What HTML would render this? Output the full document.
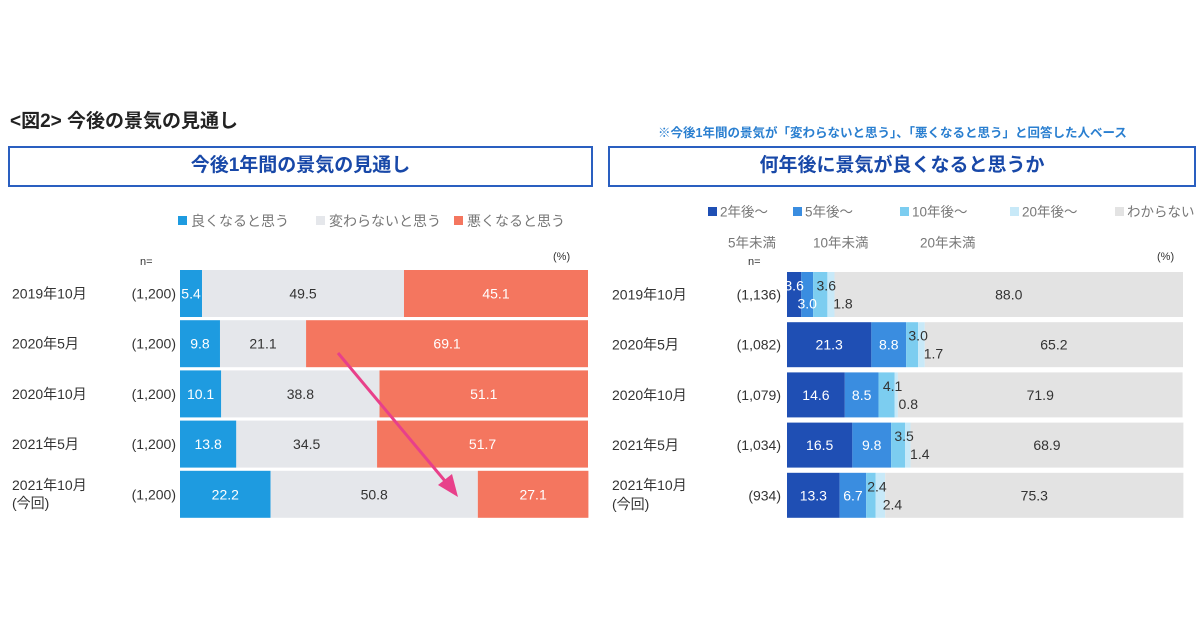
<!DOCTYPE html>
<html><head><meta charset="utf-8"><style>
body{margin:0;background:#fff;font-family:"Liberation Sans","Noto Sans CJK JP",sans-serif;}
#root{position:relative;width:1200px;height:630px;overflow:hidden;background:#fff}
.t{position:absolute;white-space:nowrap;color:#333}
.box{position:absolute;border:2px solid #2a5fc0;box-sizing:border-box;color:#1848a8;font-weight:bold;font-size:19px;text-align:center;line-height:36px}
</style></head><body>
<div id="root">
<div class="t" style="left:10px;top:106px;font-size:19px;font-weight:bold;color:#222">&lt;図2&gt;&nbsp;今後の景気の見通し</div>
<div class="t" style="left:658px;top:122px;font-size:12.5px;font-weight:bold;color:#2a7fd0">※今後1年間の景気が「変わらないと思う」、「悪くなると思う」と回答した人ベース</div>
<div class="box" style="left:8px;top:146px;width:585px;height:41px">今後1年間の景気の見通し</div>
<div class="box" style="left:608px;top:146px;width:588px;height:41px">何年後に景気が良くなると思うか</div>
<svg id="chart" width="1200" height="630" style="position:absolute;left:0;top:0"></svg>
</div>
<script>
const rowsL = ["2019年10月","2020年5月","2020年10月","2021年5月","2021年10月"];
const nL = ["(1,200)","(1,200)","(1,200)","(1,200)","(1,200)"];
const good = [5.4,9.8,10.1,13.8,22.2];
const same = [49.5,21.1,38.8,34.5,50.8];
const bad = [45.1,69.1,51.1,51.7,27.1];
const seriesLNames = ["良くなると思う","変わらないと思う","悪くなると思う"];
const rowsR = ["2019年10月","2020年5月","2020年10月","2021年5月","2021年10月"];
const nR = ["(1,136)","(1,082)","(1,079)","(1,034)","(934)"];
const y2 = [3.6,21.3,14.6,16.5,13.3];
const y5 = [3.0,8.8,8.5,9.8,6.7];
const y10 = [3.6,3.0,4.1,3.5,2.4];
const y20 = [1.8,1.7,0.8,1.4,2.4];
const unk = [88.0,65.2,71.9,68.9,75.3];
const seriesRNames = ["2年後～","5年後～","10年後～","20年後～","わからない"];
const seriesRSub = ["5年未満","10年未満","20年未満"];

const svg=document.getElementById('chart');
const NS='http://www.w3.org/2000/svg';
function mk(tag,attrs,name){const e=document.createElementNS(NS,tag);for(const k in attrs)e.setAttribute(k,attrs[k]);


svg.appendChild(e);return e;}
function txt(x,y,s,name,o){const e=mk('text',Object.assign({x:x,y:y,'font-size':14,fill:'#333','dominant-baseline':'central','font-family':'"Liberation Sans","Noto Sans CJK JP",sans-serif'},o||{}),name);e.textContent=s;return e;}
const rowY=i=>270+i*50.2, barH=47;
// left
const lx0=180,lw=408; const xL=v=>lx0+v/100*lw;
const colL=['#1e9be0','#e5e7eb','#f4765f'];
const dataL=[good,same,bad];
[[178,'#1e9be0'],[316,'#e5e7eb'],[454,'#f4765f']].forEach((p,k)=>{
 mk('rect',{x:p[0],y:216,width:9,height:9,fill:p[1]},'legend-swatch-'+k);
 txt(p[0]+13,221,seriesLNames[k],'legend-label-'+k,{fill:'#777'});
});
txt(140,262,'n=','n-label',{'font-size':11});
txt(553,257,'(%)','percent-label',{'font-size':11});
rowsL.forEach((r,i)=>{
 const y=rowY(i); let c=0;
 if(i===4){txt(12,y+14,r,'row-label-left',{});txt(12,y+32,'(今回)','row-sub-left',{});}
 else txt(12,y+barH/2,r,'row-label-left');
 txt(176,y+barH/2,nL[i],'row-n-left',{'text-anchor':'end'});
 dataL.forEach((s,k)=>{
  const v=s[i];
  mk('rect',{x:xL(c),y:y,width:xL(c+v)-xL(c),height:barH,fill:colL[k]},'bar-left-'+k);
  txt(xL(c+v/2),y+barH/2,v.toFixed(1),'value-left',{'text-anchor':'middle',fill:k===1?'#333':'#fff'});
  c+=v;
 });
});
// arrow
mk('line',{x1:338,y1:353,x2:450,y2:487,stroke:'#e8408a','stroke-width':3},'trend-arrow-line');
mk('polygon',{points:'458,497 438,485 452,474',fill:'#e8408a'},'trend-arrow-head');
// right
const rx0=787,rw=396; const xR=v=>rx0+v/100*rw;
const colR=['#1f4fb4','#3a8de0','#7ccdf0','#c8e9f8','#e3e3e3'];
const dataR=[y2,y5,y10,y20,unk];
[[708,0],[793,1],[900,2],[1010,3],[1115,4]].forEach((p)=>{
 const k=p[1];
 mk('rect',{x:p[0],y:207,width:9,height:9,fill:colR[k]},'legend-swatch-r-'+k);
 txt(p[0]+12,212,seriesRNames[k],'legend-label-r-'+k,{fill:'#777','font-size':13.5});
 if(k<3) txt(p[0]+20,243,seriesRSub[k],'legend-sub-r-'+k,{fill:'#777','font-size':13.5});
});
txt(748,262,'n=','n-label-right',{'font-size':11});
txt(1157,257,'(%)','percent-label-right',{'font-size':11});
rowsR.forEach((r,i)=>{
 const y=rowY(i)+2, h=45;
 if(i===4){txt(612,y+12,r,'row-label-right');txt(612,y+31,'(今回)','row-sub-right');}
 else txt(612,y+h/2,r,'row-label-right');
 txt(781,y+h/2,nR[i],'row-n-right',{'text-anchor':'end'});
 let c=0;
 dataR.forEach((s,k)=>{
  const v=s[i];
  mk('rect',{x:xR(c),y:y,width:xR(c+v)-xR(c),height:h,fill:colR[k]},'bar-right-'+k);
  c+=v;
 });
 c=0;
 dataR.forEach((s,k)=>{
  const v=s[i];
  let cx=xR(c+v/2), cy=y+h/2;
  if(v<5){cy=y+h/2+((k%2)?9:-9); if(k>=2) cx+=6+(k-2)*6;}
  txt(cx,cy,v.toFixed(1),'value-right',{'text-anchor':'middle',fill:(k<2)?'#fff':'#333'});
  c+=v;
 });
});
</script>
</body></html>
